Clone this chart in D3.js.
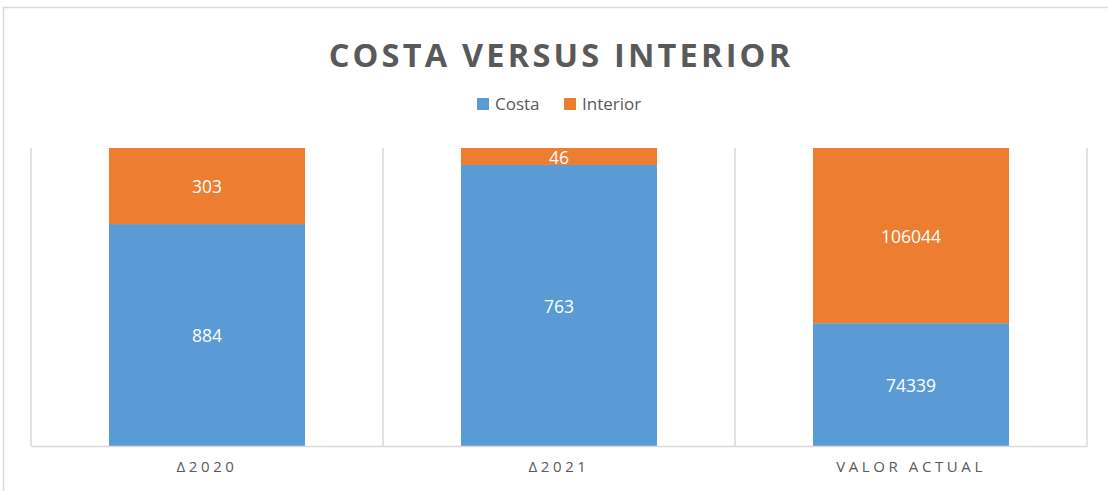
<!DOCTYPE html>
<html><head><meta charset="utf-8">
<script src="https://cdn.jsdelivr.net/npm/d3@7"></script>
<style>body{margin:0;background:#fff;}svg{display:block;}</style>
</head><body>
<svg id="c" width="1108" height="491"></svg>
<script>
const categories = ["Δ2020", "Δ2021", "VALOR ACTUAL"];
const seriesNames = ["Costa", "Interior"];
const costa = [884, 763, 74339];
const interior = [303, 46, 106044];
const colors = ["#5b9bd5", "#ed7d31"];

const svg = d3.select("#c");
const W = 1108, H = 491;
svg.append("rect").attr("x", 3.5).attr("y", 7.5).attr("width", W + 10).attr("height", H + 10)
  .attr("fill", "#fff").attr("stroke", "#d9d9d9").attr("stroke-width", 1.5);

const m = {left: 31, right: 1087, top: 148, bottom: 446};
const x = d3.scaleBand().domain(categories).range([m.left, m.right]).paddingInner(0).paddingOuter(0);
const y = d3.scaleLinear().domain([0, 1]).range([m.bottom, m.top]);

const rows = categories.map((c, i) => ({cat: c, Costa: costa[i], Interior: interior[i]}));
const stack = d3.stack().keys(seriesNames).offset(d3.stackOffsetExpand);
const layers = stack(rows);

const bounds = categories.map(c => x(c)).concat([x(categories[categories.length-1]) + x.bandwidth()]);
svg.append("g").selectAll("line").data(bounds).join("line")
  .attr("x1", d => d).attr("x2", d => d).attr("y1", m.top).attr("y2", m.bottom)
  .attr("stroke", "#d9d9d9").attr("stroke-width", 1.5);

const bw = x.bandwidth() * 0.557;
const g = svg.append("g");
layers.forEach((layer, li) => {
  g.append("g").selectAll("rect").data(layer).join("rect")
    .attr("x", d => x(d.data.cat) + (x.bandwidth() - bw) / 2)
    .attr("width", bw)
    .attr("y", d => y(d[1]))
    .attr("height", d => y(d[0]) - y(d[1]))
    .attr("fill", colors[li]);
  g.append("g").selectAll("text").data(layer).join("text")
    .attr("x", d => x(d.data.cat) + x.bandwidth() / 2)
    .attr("y", d => (y(d[0]) + y(d[1])) / 2 + 1)
    .attr("dy", "0.35em")
    .attr("text-anchor", "middle")
    .attr("fill", "#fff")
    .style("font-family", "'Open Sans', sans-serif")
    .style("font-size", "17.5px")
    .text(d => d.data[seriesNames[li]]);
});

const xAxis = d3.axisBottom(x).tickSize(0).tickPadding(15);
const ax = svg.append("g").attr("transform", `translate(0,${m.bottom})`).call(xAxis);
ax.select(".domain").attr("stroke", "#d9d9d9").attr("stroke-width", 1.5);
ax.selectAll("text").attr("fill", "#595959")
  .style("font-family", "'Open Sans', sans-serif").style("font-size", "15px")
  .style("letter-spacing", "3.6px");

svg.append("text").attr("x", 561).attr("y", 67).attr("text-anchor", "middle")
  .attr("fill", "#595959").style("font-family", "'Open Sans', sans-serif")
  .style("font-weight", "bold").style("font-size", "32.5px").style("letter-spacing", "3.2px")
  .attr("xml:space", "preserve").style("white-space", "pre")
  .text("COSTA VERSUS INTERIOR");

const leg = svg.append("g");
const legItems = [{n: "Costa", x: 477}, {n: "Interior", x: 564}];
legItems.forEach((it, i) => {
  leg.append("rect").attr("x", it.x).attr("y", 98).attr("width", 12).attr("height", 12).attr("fill", colors[i]);
  leg.append("text").attr("x", it.x + 18).attr("y", 104).attr("dy", "0.35em")
    .attr("fill", "#595959").style("font-family", "'Open Sans', sans-serif").style("font-size", "17px")
    .text(it.n);
});
</script>
</body></html>
